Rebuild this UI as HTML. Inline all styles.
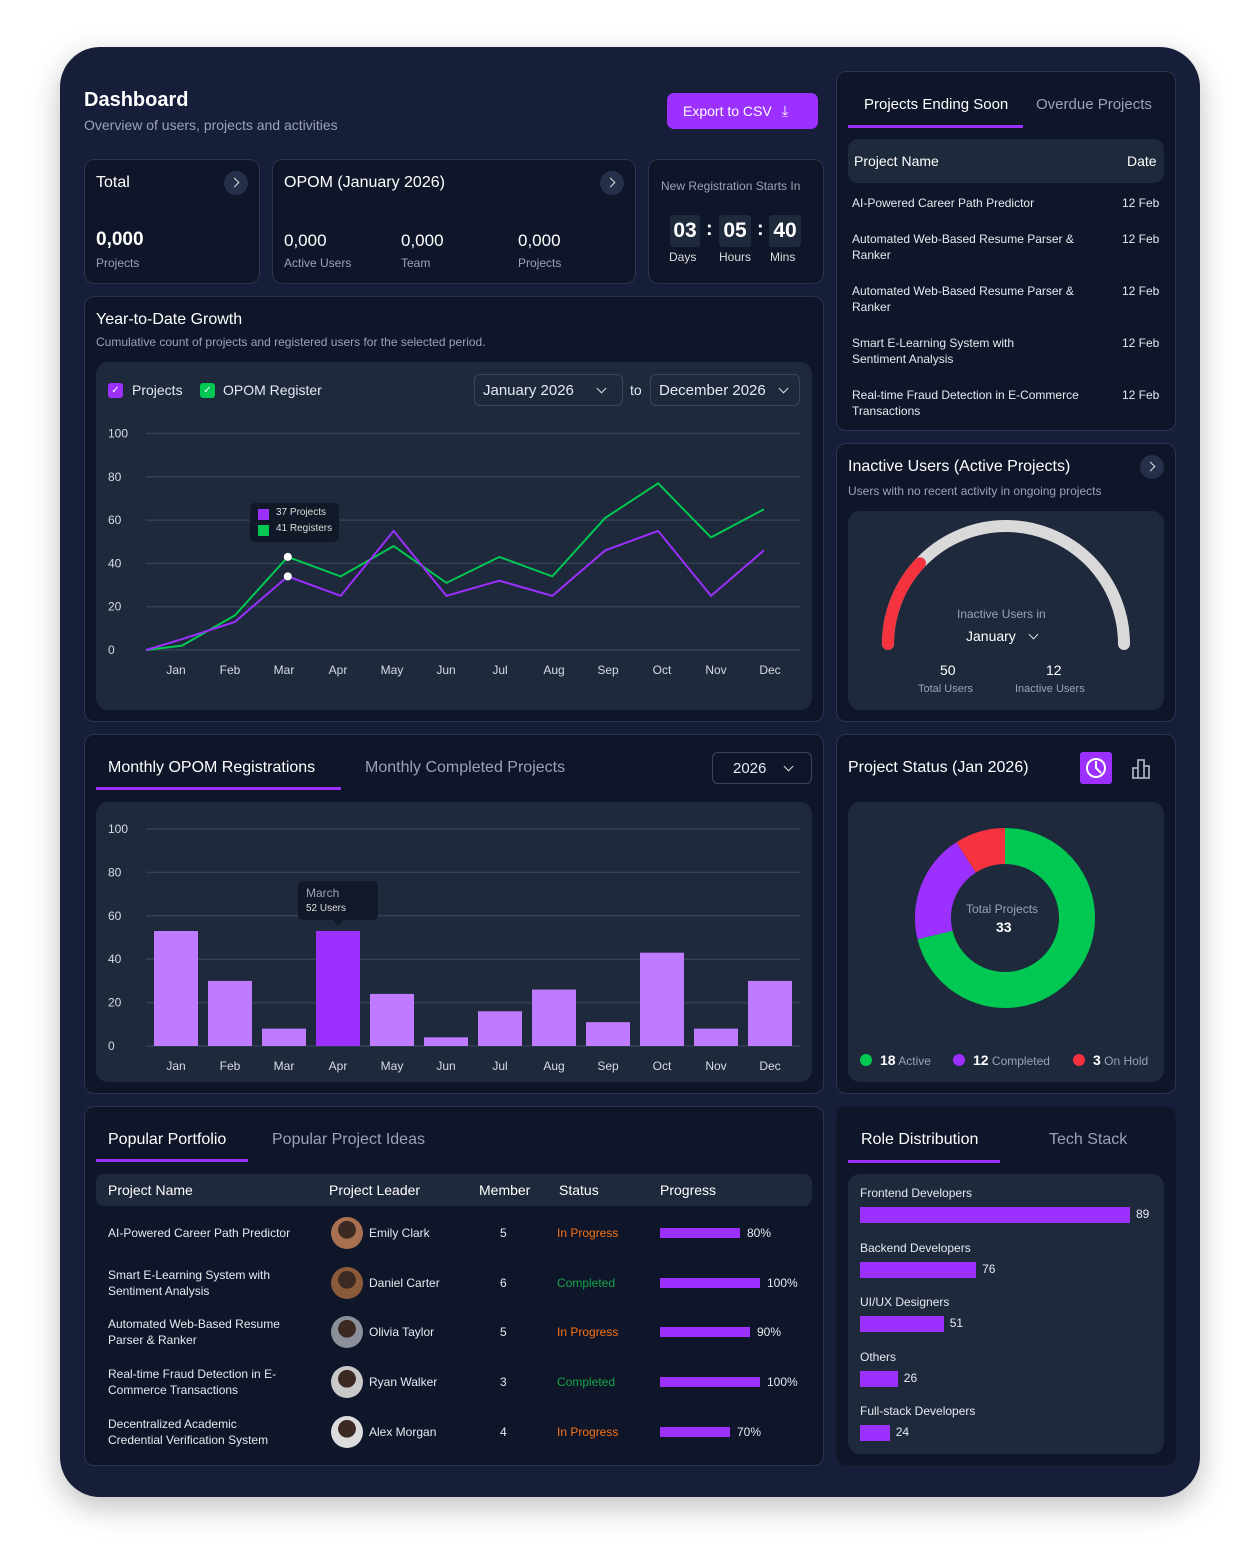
<!DOCTYPE html>
<html><head><meta charset="utf-8"><style>
*{box-sizing:border-box;margin:0;padding:0}
body{width:1260px;height:1543px;background:#fff;font-family:"Liberation Sans",sans-serif;color:#fff;position:relative;overflow:hidden}
.abs{position:absolute}
.outer{left:60px;top:47px;width:1140px;height:1450px;border-radius:40px;background:#171e3a;box-shadow:0 10px 30px rgba(0,0,0,.25)}
.panel{position:absolute;background:#0f1629;border:1px solid #2a3350;border-radius:10px}
.inner{position:absolute;background:#1e293b;border-radius:12px}
.t{position:absolute;white-space:nowrap}
.muted{color:#9aa3b5}
.sel{position:absolute;border:1px solid #3a4560;border-radius:6px;font-size:15px;padding:7px 8px;color:#e6e9f0}
.chev{display:inline-block;width:7px;height:7px;border-right:1.6px solid #ddd;border-bottom:1.6px solid #ddd;transform:rotate(45deg);margin-left:10px;position:relative;top:-3px}
.circbtn{position:absolute;width:24px;height:24px;border-radius:50%;background:#26304a}
.circbtn:after{content:"";position:absolute;left:7px;top:8px;width:6px;height:6px;border-right:1.6px solid #ddd;border-top:1.6px solid #ddd;transform:rotate(45deg)}
.tab{position:absolute;font-size:16px;white-space:nowrap}
.uline{position:absolute;height:3px;background:#9b30ff}
.row{position:absolute;font-size:12px;color:#e8eaf0;line-height:16px}
.av{position:absolute;width:32px;height:32px;border-radius:50%}
</style></head><body>
<div class="abs outer"></div>

<div class="t" style="left:84px;top:89px;font-size:20px;font-weight:bold">Dashboard</div>
<div class="t muted" style="left:84px;top:117px;font-size:14px">Overview of users, projects and activities</div>
<div class="abs" style="left:667px;top:93px;width:151px;height:36px;border-radius:7px;background:#9b30ff;font-size:14px;line-height:36px;padding-left:16px">Export to CSV <span style="font-size:15px;margin-left:6px">⤓</span></div>

<!-- Total card -->
<div class="panel" style="left:84px;top:159px;width:176px;height:125px"></div>
<div class="t" style="left:96px;top:174px;font-size:16px">Total</div>
<div class="circbtn" style="left:224px;top:171px"></div>
<div class="t" style="left:96px;top:229px;font-size:19px;font-weight:bold">0,000</div>
<div class="t muted" style="left:96px;top:256px;font-size:12px">Projects</div>

<!-- OPOM card -->
<div class="panel" style="left:272px;top:159px;width:364px;height:125px"></div>
<div class="t" style="left:284px;top:174px;font-size:16px">OPOM (January 2026)</div>
<div class="circbtn" style="left:600px;top:171px"></div>
<div class="t" style="left:284px;top:231px;font-size:17px">0,000</div>
<div class="t muted" style="left:284px;top:256px;font-size:12px">Active Users</div>
<div class="t" style="left:401px;top:231px;font-size:17px">0,000</div>
<div class="t muted" style="left:401px;top:256px;font-size:12px">Team</div>
<div class="t" style="left:518px;top:231px;font-size:17px">0,000</div>
<div class="t muted" style="left:518px;top:256px;font-size:12px">Projects</div>

<!-- countdown -->
<div class="panel" style="left:648px;top:159px;width:176px;height:125px"></div>
<div class="t muted" style="left:661px;top:179px;font-size:12px">New Registration Starts In</div>
<div class="abs" style="left:670px;top:215px;width:30px;height:32px;background:#1e293b;border-radius:3px;font-size:21px;font-weight:bold;text-align:center;line-height:32px">03</div>
<div class="t" style="left:706px;top:218px;font-size:20px;font-weight:bold">:</div>
<div class="abs" style="left:719px;top:215px;width:32px;height:32px;background:#1e293b;border-radius:3px;font-size:21px;font-weight:bold;text-align:center;line-height:32px">05</div>
<div class="t" style="left:757px;top:218px;font-size:20px;font-weight:bold">:</div>
<div class="abs" style="left:769px;top:215px;width:32px;height:32px;background:#1e293b;border-radius:3px;font-size:21px;font-weight:bold;text-align:center;line-height:32px">40</div>
<div class="t" style="left:669px;top:250px;font-size:12px;color:#ddd">Days</div>
<div class="t" style="left:719px;top:250px;font-size:12px;color:#ddd">Hours</div>
<div class="t" style="left:770px;top:250px;font-size:12px;color:#ddd">Mins</div>

<!-- Ending soon panel -->
<div class="panel" style="left:836px;top:71px;width:340px;height:360px"></div>
<div class="tab" style="left:864px;top:96px;font-size:15px">Projects Ending Soon</div>
<div class="tab muted" style="left:1036px;top:96px;font-size:15px">Overdue Projects</div>
<div class="uline" style="left:848px;top:125px;width:175px"></div>
<div class="inner" style="left:848px;top:139px;width:316px;height:44px;border-radius:10px"></div>
<div class="t" style="left:854px;top:153px;font-size:14px">Project Name</div>
<div class="t" style="left:1127px;top:153px;font-size:14px">Date</div>
<div class="row" style="left:852px;top:195px">AI-Powered Career Path Predictor</div>
<div class="row" style="left:1122px;top:195px">12 Feb</div>
<div class="row" style="left:852px;top:231px">Automated Web-Based Resume Parser &amp;<br>Ranker</div>
<div class="row" style="left:1122px;top:231px">12 Feb</div>
<div class="row" style="left:852px;top:283px">Automated Web-Based Resume Parser &amp;<br>Ranker</div>
<div class="row" style="left:1122px;top:283px">12 Feb</div>
<div class="row" style="left:852px;top:335px">Smart E-Learning System with<br>Sentiment Analysis</div>
<div class="row" style="left:1122px;top:335px">12 Feb</div>
<div class="row" style="left:852px;top:387px">Real-time Fraud Detection in E-Commerce<br>Transactions</div>
<div class="row" style="left:1122px;top:387px">12 Feb</div>

<!-- YTD panel -->
<div class="panel" style="left:84px;top:296px;width:740px;height:426px"></div>
<div class="t" style="left:96px;top:311px;font-size:16px">Year-to-Date Growth</div>
<div class="t muted" style="left:96px;top:335px;font-size:12px">Cumulative count of projects and registered users for the selected period.</div>
<div class="inner" style="left:96px;top:362px;width:716px;height:348px"></div>
<div class="abs" style="left:108px;top:383px;width:15px;height:15px;border-radius:3px;background:#9b30ff;font-size:10px;text-align:center;line-height:15px">✓</div>
<div class="t" style="left:132px;top:382px;font-size:14px;color:#e6e9f0">Projects</div>
<div class="abs" style="left:200px;top:383px;width:15px;height:15px;border-radius:3px;background:#00c853;font-size:10px;text-align:center;line-height:15px">✓</div>
<div class="t" style="left:223px;top:382px;font-size:14px;color:#e6e9f0">OPOM Register</div>
<div class="sel" style="left:474px;top:374px;width:149px;height:32px">January 2026 <span class="chev" style="margin-left:20px"></span></div>
<div class="t" style="left:630px;top:382px;font-size:14px;color:#e6e9f0">to</div>
<div class="sel" style="left:650px;top:374px;width:150px;height:32px">December 2026 <span class="chev"></span></div>
<svg class="abs" id="lineChart" style="left:0;top:0" width="1260" height="720"></svg>
<div class="abs" style="left:250px;top:503px;width:89px;height:39px;background:#111827;border-radius:5px">
<div class="abs" style="left:8px;top:6px;width:11px;height:11px;background:#9b30ff"></div><div class="t" style="left:26px;top:4px;font-size:10px;color:#ddd">37 Projects</div>
<div class="abs" style="left:8px;top:22px;width:11px;height:11px;background:#00c853"></div><div class="t" style="left:26px;top:20px;font-size:10px;color:#ddd">41 Registers</div>
</div>

<!-- Inactive users -->
<div class="panel" style="left:836px;top:443px;width:340px;height:279px"></div>
<div class="t" style="left:848px;top:458px;font-size:16px">Inactive Users (Active Projects)</div>
<div class="circbtn" style="left:1140px;top:455px"></div>
<div class="t muted" style="left:848px;top:484px;font-size:12px">Users with no recent activity in ongoing projects</div>
<div class="inner" style="left:848px;top:511px;width:316px;height:199px"></div>
<svg class="abs" id="gauge" style="left:848px;top:511px" width="316" height="199"></svg>
<div class="t muted" style="left:957px;top:607px;font-size:12px">Inactive Users in</div>
<div class="t" style="left:966px;top:628px;font-size:14px">January <span class="chev"></span></div>
<div class="t" style="left:940px;top:662px;font-size:14px">50</div>
<div class="t muted" style="left:918px;top:683px;font-size:11px">Total Users</div>
<div class="t" style="left:1046px;top:662px;font-size:14px">12</div>
<div class="t muted" style="left:1015px;top:683px;font-size:11px">Inactive Users</div>

<!-- Monthly panel -->
<div class="panel" style="left:84px;top:734px;width:740px;height:360px"></div>
<div class="tab" style="left:108px;top:759px">Monthly OPOM Registrations</div>
<div class="tab muted" style="left:365px;top:759px">Monthly Completed Projects</div>
<div class="uline" style="left:96px;top:787px;width:245px"></div>
<div class="sel" style="left:712px;top:752px;width:100px;height:32px;padding-left:20px">2026 <span class="chev" style="margin-left:14px"></span></div>
<div class="inner" style="left:96px;top:802px;width:716px;height:280px"></div>
<svg class="abs" id="barChart" style="left:0;top:700px" width="1260" height="400"></svg>
<div class="abs" style="left:298px;top:881px;width:80px;height:39px;background:#111827;border-radius:5px">
<div class="t muted" style="left:8px;top:5px;font-size:12px">March</div><div class="t" style="left:8px;top:22px;font-size:10px;color:#ddd">52 Users</div></div>

<!-- Project status -->
<div class="panel" style="left:836px;top:734px;width:340px;height:360px"></div>
<div class="t" style="left:848px;top:759px;font-size:16px">Project Status (Jan 2026)</div>
<div class="abs" style="left:1080px;top:752px;width:32px;height:32px;border-radius:3px;background:#9b30ff">
<svg width="32" height="32"><circle cx="16" cy="16" r="9" fill="none" stroke="#fff" stroke-width="2"/><path d="M16 9 V16 L21 21" fill="none" stroke="#fff" stroke-width="2"/></svg></div>
<svg class="abs" style="left:1128px;top:754px" width="28" height="28"><path d="M5 24 V14 H10 V24 M10 24 V6 H16 V24 M16 24 V12 H21 V24 H4" fill="none" stroke="#aab" stroke-width="1.8"/></svg>
<div class="inner" style="left:848px;top:802px;width:316px;height:280px"></div>
<svg class="abs" id="donut" style="left:848px;top:802px" width="316" height="280"></svg>
<div class="t muted" style="left:966px;top:902px;font-size:12px">Total Projects</div>
<div class="t" style="left:996px;top:919px;font-size:14px;font-weight:bold">33</div>
<div id="donutLegend"></div>

<!-- Popular portfolio -->
<div class="panel" style="left:84px;top:1106px;width:740px;height:360px"></div>
<div class="tab" style="left:108px;top:1131px">Popular Portfolio</div>
<div class="tab muted" style="left:272px;top:1131px">Popular Project Ideas</div>
<div class="uline" style="left:96px;top:1159px;width:152px"></div>
<div class="inner" style="left:96px;top:1174px;width:716px;height:32px;border-radius:8px"></div>
<div class="t" style="left:108px;top:1182px;font-size:14px">Project Name</div>
<div class="t" style="left:329px;top:1182px;font-size:14px">Project Leader</div>
<div class="t" style="left:479px;top:1182px;font-size:14px">Member</div>
<div class="t" style="left:559px;top:1182px;font-size:14px">Status</div>
<div class="t" style="left:660px;top:1182px;font-size:14px">Progress</div>
<div id="portfolioRows"></div>

<!-- Role distribution -->
<div class="panel" style="left:836px;top:1106px;width:340px;height:360px;border-color:#131a2e"></div>
<div class="tab" style="left:861px;top:1131px">Role Distribution</div>
<div class="tab muted" style="left:1049px;top:1131px">Tech Stack</div>
<div class="uline" style="left:848px;top:1160px;width:152px"></div>
<div class="inner" style="left:848px;top:1174px;width:316px;height:280px"></div>
<div id="roleBars"></div>

<script>
// ---- line chart data ----
const lineMonths=["Jan","Feb","Mar","Apr","May","Jun","Jul","Aug","Sep","Oct","Nov","Dec"];
const lineTicks=[0,20,40,60,80,100];
const projectsSeries=[5,13,34,25,55,25,32,25,46,55,25,46];
const registerSeries=[2,16,43,34,48,31,43,34,61,77,52,65];
// ---- bar chart data ----
const barMonths=["Jan","Feb","Mar","Apr","May","Jun","Jul","Aug","Sep","Oct","Nov","Dec"];
const barTicks=[0,20,40,60,80,100];
const barValues=[53,30,8,53,24,4,16,26,11,43,8,30];
const barHighlight=3;
// ---- donut data ----
const statusLabels=["Active","Completed","On Hold"];
const statusCounts=[18,12,3];
const statusSlices=[23.5,6.5,3];
// ---- gauge data ----
const gaugeTotal=50;
const gaugeInactive=12;
// ---- role data ----
const roleNames=["Frontend Developers","Backend Developers","UI/UX Designers","Others","Full-stack Developers"];
const roleValues=[89,76,51,26,24];
const roleShares=[100,43,31,14,11];
// ---- portfolio data ----
const pNames=["AI-Powered Career Path Predictor","Smart E-Learning System with<br>Sentiment Analysis","Automated Web-Based Resume<br>Parser &amp; Ranker","Real-time Fraud Detection in E-<br>Commerce Transactions","Decentralized Academic<br>Credential Verification System"];
const pLeaders=["Emily Clark","Daniel Carter","Olivia Taylor","Ryan Walker","Alex Morgan"];
const pMembers=[5,6,5,3,4];
const pStatus=["In Progress","Completed","In Progress","Completed","In Progress"];
const pProgress=[80,100,90,100,70];

const NS="http://www.w3.org/2000/svg";
function mk(parent,tag,attrs){const e=document.createElementNS(NS,tag);for(const k in attrs)e.setAttribute(k,attrs[k]);parent.appendChild(e);return e;}

// line chart
(function(){
 const svg=document.getElementById('lineChart');
 const y=v=>650-2.165*v, x=i=>182+52.9*i;
 lineTicks.forEach(t=>{
  const g=mk(svg,'line',{x1:146,x2:800,y1:y(t),y2:y(t),stroke:'#334056','stroke-width':1.5});
  
  
  const l=mk(svg,'text',{x:108,y:y(t)+4,fill:'#d8dbe3','font-size':12});
  l.textContent=t;
  
  
 });
 lineMonths.forEach((m,i)=>{
  const l=mk(svg,'text',{x:176+54*i,y:674,fill:'#d8dbe3','font-size':12,'text-anchor':'middle'});
  l.textContent=m;
  
  
 });
 function series(vals,color,name){
  const pts=[[146,y(0)]].concat(vals.map((v,i)=>[x(i),y(v)]));
  const p=mk(svg,'polyline',{points:pts.map(p=>p.join(',')).join(' '),fill:'none',stroke:color,'stroke-width':2,'stroke-linejoin':'miter'});
  
  
 }
 series(registerSeries,'#00c853','opom-register-line');
 series(projectsSeries,'#9b30ff','projects-line');
 [registerSeries[2],projectsSeries[2]].forEach(v=>{
  const c=mk(svg,'circle',{cx:x(2),cy:y(v),r:4,fill:'#fff'});
  
  
 });
})();

// bar chart (svg top offset 700)
(function(){
 const svg=document.getElementById('barChart');
 const y=v=>1046-700-2.17*v;
 barTicks.forEach(t=>{
  const g=mk(svg,'line',{x1:146,x2:800,y1:y(t),y2:y(t),stroke:'#334056','stroke-width':1.5});
  
  
  const l=mk(svg,'text',{x:108,y:y(t)+4,fill:'#d8dbe3','font-size':12});
  l.textContent=t;
  
  
 });
 barValues.forEach((v,i)=>{
  const cx=176+54*i;
  const r=mk(svg,'rect',{x:cx-22,y:y(v),width:44,height:2.17*v,fill:i===barHighlight?'#9b30ff':'#bf7bff'});
  
  
  const l=mk(svg,'text',{x:cx,y:370,fill:'#d8dbe3','font-size':12,'text-anchor':'middle'});
  l.textContent=barMonths[i];
  
  
 });
 const a=mk(svg,'path',{d:'M333 220 L343 220 L338 226 Z',fill:'#111827'});
 
 
})();

// gauge
(function(){
 const svg=document.getElementById('gauge');
 const cx=158,cy=133,r=118;
 const pt=a=>[cx+r*Math.cos(a),cy-r*Math.sin(a)];
 const s=pt(Math.PI),e=pt(0);
 const bg=mk(svg,'path',{d:`M${s[0]} ${s[1]} A${r} ${r} 0 0 1 ${e[0]} ${e[1]}`,fill:'none',stroke:'#d9d9d9','stroke-width':12,'stroke-linecap':'round'});
 
 
 const ang=Math.PI-Math.PI*(gaugeInactive/gaugeTotal);
 const m=pt(ang);
 const fg=mk(svg,'path',{d:`M${s[0]} ${s[1]} A${r} ${r} 0 0 1 ${m[0]} ${m[1]}`,fill:'none',stroke:'#f5333f','stroke-width':12,'stroke-linecap':'round'});
 
 
})();

// donut
(function(){
 const svg=document.getElementById('donut');
 const cx=157,cy=116,r=72,colors=['#00c853','#9b30ff','#f5333f'];
 const tot=statusSlices.reduce((a,b)=>a+b,0);let acc=0;
 statusSlices.forEach((v,i)=>{
  const a0=acc/tot*2*Math.PI;acc+=v;const a1=acc/tot*2*Math.PI;
  const p=a=>[cx+r*Math.sin(a),cy-r*Math.cos(a)];
  const s=p(a0),e=p(a1);
  const path=mk(svg,'path',{d:`M${s[0]} ${s[1]} A${r} ${r} 0 ${a1-a0>Math.PI?1:0} 1 ${e[0]} ${e[1]}`,fill:'none',stroke:colors[i],'stroke-width':36});
  
  
 });
 const lg=document.getElementById('donutLegend');
 const xs=[860,953,1073];
 statusLabels.forEach((n,i)=>{
  const d=document.createElement('div');
  d.className='t';d.style.left=xs[i]+'px';d.style.top='1052px';d.style.fontSize='12px';
  d.innerHTML=`<span style="display:inline-block;width:12px;height:12px;border-radius:50%;background:${colors[i]};vertical-align:-1px;margin-right:8px"></span><b style="font-size:14px">${statusCounts[i]}</b> <span class="muted">${n}</span>`;
  
  
  lg.appendChild(d);
 });
})();

// role bars
(function(){
 const c=document.getElementById('roleBars');
 roleNames.forEach((n,i)=>{
  const top=1186+54.6*i;
  const l=document.createElement('div');
  l.className='t';l.style.cssText=`left:860px;top:${top}px;font-size:12px;color:#e8eaf0`;l.textContent=n;
  
  
  c.appendChild(l);
  const w=270*roleShares[i]/100;
  const b=document.createElement('div');
  b.className='abs';b.style.cssText=`left:860px;top:${top+21}px;width:${w}px;height:16px;background:#9b30ff`;
  
  
  c.appendChild(b);
  const v=document.createElement('div');
  v.className='t';v.style.cssText=`left:${866+w}px;top:${top+21}px;font-size:12px;color:#e8eaf0`;v.textContent=roleValues[i];
  
  
  c.appendChild(v);
 });
})();

// portfolio rows
(function(){
 const c=document.getElementById('portfolioRows');
 const avc=['#a87050','#8a5a3a','#8a8f9a','#c9c9c9','#dcdcdc'];
 pNames.forEach((n,i)=>{
  const cy=1233+49.7*i;
  const two=n.indexOf('<br>')>=0;
  let h=`<div class="row" style="left:108px;top:${two?cy-16:cy-8}px">${n}</div>`;
  h+=`<div class="av" style="left:331px;top:${cy-16}px;background:radial-gradient(circle at 50% 40%,#3a2a22 0 35%,${avc[i]} 36%)"></div>`;
  h+=`<div class="row" style="left:369px;top:${cy-8}px">${pLeaders[i]}</div>`;
  h+=`<div class="row" style="left:500px;top:${cy-8}px">${pMembers[i]}</div>`;
  h+=`<div class="row" style="left:557px;top:${cy-8}px;color:${pStatus[i]==='Completed'?'#16a34a':'#f97316'}">${pStatus[i]}</div>`;
  h+=`<div class="abs" style="left:660px;top:${cy-5}px;width:${pProgress[i]}px;height:10px;background:#9b30ff"></div>`;
  h+=`<div class="row" style="left:${667+pProgress[i]}px;top:${cy-8}px">${pProgress[i]}%</div>`;
  const r=document.createElement('div');
  r.innerHTML=h;
  
  
  c.appendChild(r);
 });
})();
</script>
</body></html>
